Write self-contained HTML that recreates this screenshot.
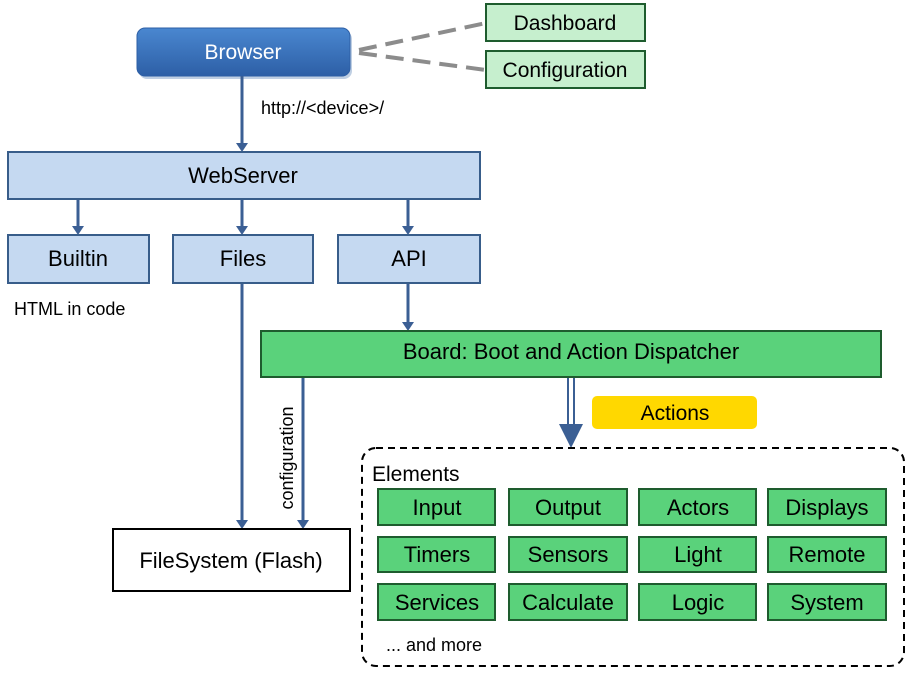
<!DOCTYPE html>
<html><head><meta charset="utf-8"><style>
body{margin:0;background:#fff;}
svg text{font-family:"Liberation Sans",sans-serif;}
</style></head><body>
<svg width="906" height="670" viewBox="0 0 906 670" xmlns="http://www.w3.org/2000/svg">
<defs>
<linearGradient id="bg" x1="0" y1="0" x2="0" y2="1"><stop offset="0" stop-color="#4a87d0"/><stop offset="1" stop-color="#2d5fa6"/></linearGradient>
</defs>
<line x1="359" y1="50" x2="486" y2="23" stroke="#8c8c8c" stroke-width="4" stroke-dasharray="18,9"/>
<line x1="359" y1="53" x2="486" y2="70" stroke="#8c8c8c" stroke-width="4" stroke-dasharray="18,9"/>
<rect x="139" y="31" width="213" height="48" rx="8" fill="#bfcfe3"/>
<rect x="137" y="28" width="213" height="48" rx="8" fill="url(#bg)" stroke="#2d5fa6"/>
<text x="243" y="59" font-size="21" fill="#fff" text-anchor="middle">Browser</text>
<rect x="486" y="4" width="159" height="37" fill="#c6efce" stroke="#1e5c2e" stroke-width="2"/>
<text x="565" y="30" font-size="21" text-anchor="middle">Dashboard</text>
<rect x="486" y="51" width="159" height="37" fill="#c6efce" stroke="#1e5c2e" stroke-width="2"/>
<text x="565" y="77" font-size="21" text-anchor="middle">Configuration</text>
<g stroke="#3b5f94" stroke-width="3">
<line x1="242" y1="76" x2="242" y2="146"/>
<line x1="78" y1="199" x2="78" y2="229"/>
<line x1="242" y1="199" x2="242" y2="229"/>
<line x1="408" y1="199" x2="408" y2="229"/>
<line x1="408" y1="283" x2="408" y2="325"/>
<line x1="242" y1="283" x2="242" y2="523"/>
<line x1="303" y1="377" x2="303" y2="523"/>
</g>
<g fill="#3b5f94">
<path d="M236,143 L248,143 L242,152 Z"/>
<path d="M72,226 L84,226 L78,235 Z"/>
<path d="M236,226 L248,226 L242,235 Z"/>
<path d="M402,226 L414,226 L408,235 Z"/>
<path d="M402,322 L414,322 L408,331 Z"/>
<path d="M236,520 L248,520 L242,529 Z"/>
<path d="M297,520 L309,520 L303,529 Z"/>
<path d="M559,424 L583,424 L571,448 Z"/>
</g>
<line x1="568" y1="377" x2="568" y2="426" stroke="#3b5f94" stroke-width="2"/>
<line x1="574" y1="377" x2="574" y2="426" stroke="#3b5f94" stroke-width="2"/>
<text x="261" y="114" font-size="18">http://&lt;device&gt;/</text>
<rect x="8" y="152" width="472" height="47" fill="#c5d9f1" stroke="#385d8a" stroke-width="2"/>
<text x="243" y="183" font-size="22" text-anchor="middle">WebServer</text>
<rect x="8" y="235" width="141" height="48" fill="#c5d9f1" stroke="#385d8a" stroke-width="2"/>
<text x="78" y="266" font-size="22" text-anchor="middle">Builtin</text>
<rect x="173" y="235" width="140" height="48" fill="#c5d9f1" stroke="#385d8a" stroke-width="2"/>
<text x="243" y="266" font-size="22" text-anchor="middle">Files</text>
<rect x="338" y="235" width="142" height="48" fill="#c5d9f1" stroke="#385d8a" stroke-width="2"/>
<text x="409" y="266" font-size="22" text-anchor="middle">API</text>
<text x="14" y="315" font-size="18">HTML in code</text>
<rect x="261" y="331" width="620" height="46" fill="#5ad27b" stroke="#1e5c2e" stroke-width="2"/>
<text x="571" y="359" font-size="22" text-anchor="middle">Board: Boot and Action Dispatcher</text>
<text transform="translate(293,458) rotate(-90)" font-size="18" text-anchor="middle">configuration</text>
<rect x="113" y="529" width="237" height="62" fill="#fff" stroke="#000" stroke-width="2"/>
<text x="231" y="568" font-size="22" text-anchor="middle">FileSystem (Flash)</text>
<rect x="592" y="396" width="165" height="33" rx="5" fill="#ffd800"/>
<text x="675" y="420" font-size="21" text-anchor="middle">Actions</text>
<rect x="362" y="448" width="542" height="218" rx="14" fill="none" stroke="#000" stroke-width="2" stroke-dasharray="7,5"/>
<text x="372" y="481" font-size="21">Elements</text>
<g fill="#5ad27b" stroke="#1e5c2e" stroke-width="2">
<rect x="378" y="489" width="117" height="36"/><rect x="509" y="489" width="118" height="36"/><rect x="639" y="489" width="117" height="36"/><rect x="768" y="489" width="118" height="36"/>
<rect x="378" y="537" width="117" height="35"/><rect x="509" y="537" width="118" height="35"/><rect x="639" y="537" width="117" height="35"/><rect x="768" y="537" width="118" height="35"/>
<rect x="378" y="584" width="117" height="36"/><rect x="509" y="584" width="118" height="36"/><rect x="639" y="584" width="117" height="36"/><rect x="768" y="584" width="118" height="36"/>
</g>
<g font-size="22" text-anchor="middle">
<text x="437" y="515">Input</text><text x="568" y="515">Output</text><text x="698" y="515">Actors</text><text x="827" y="515">Displays</text>
<text x="437" y="562">Timers</text><text x="568" y="562">Sensors</text><text x="698" y="562">Light</text><text x="827" y="562">Remote</text>
<text x="437" y="610">Services</text><text x="568" y="610">Calculate</text><text x="698" y="610">Logic</text><text x="827" y="610">System</text>
</g>
<text x="386" y="651" font-size="18">... and more</text>
</svg>
</body></html>
